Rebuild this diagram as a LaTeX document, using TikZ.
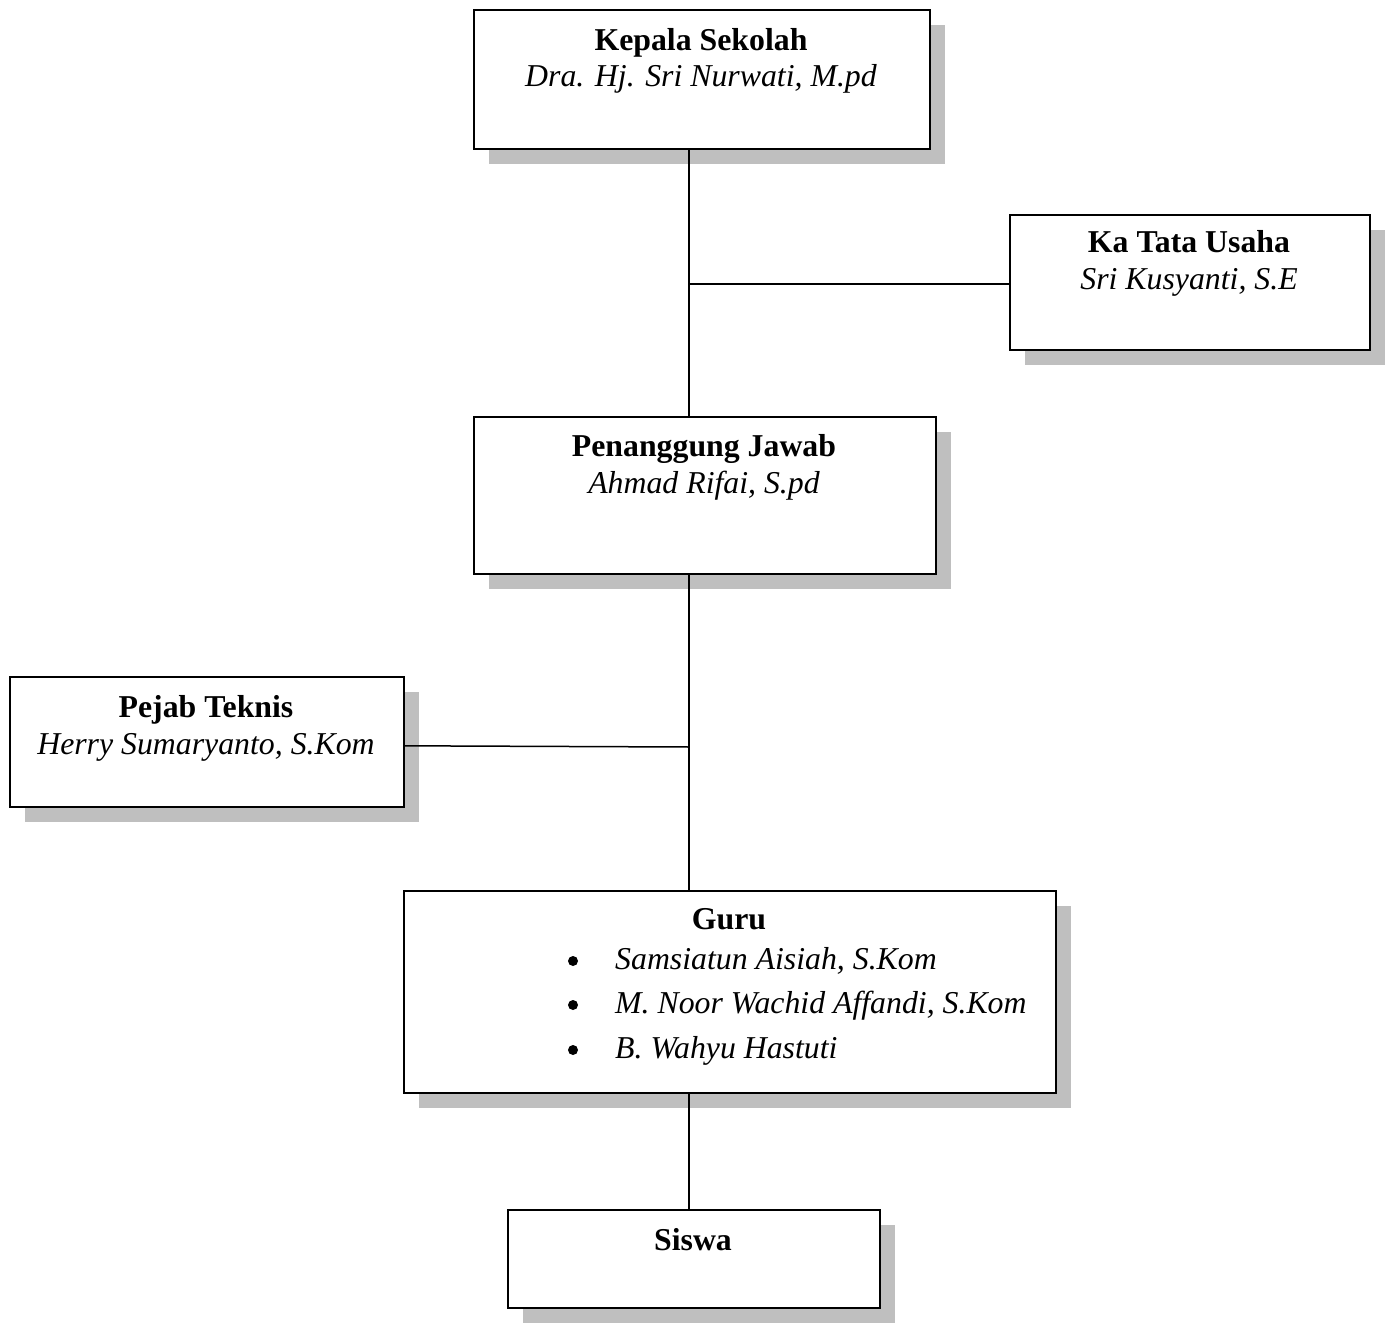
\documentclass[tikz,border=0pt]{standalone}
\usepackage{fontspec}
\setmainfont{Liberation Serif}
\usetikzlibrary{shadows,calc}
\begin{document}
\begin{tikzpicture}[x=1pt,y=-1pt,
  box/.style={draw=black, line width=1.6pt, fill=white, anchor=north west, inner sep=0pt,
    drop shadow={shadow xshift=15pt, shadow yshift=-15pt, fill=black!25, opacity=1}},
  conn/.style={draw=black, line width=1.5pt},
  ttl/.style={anchor=base, inner sep=0pt, font=\fontsize{31.8}{38}\selectfont\bfseries},
  nm/.style={anchor=base, inner sep=0pt, font=\fontsize{31.8}{38}\selectfont\itshape},
  bul/.style={circle, fill=black, inner sep=0pt, minimum size=10pt},
  itm/.style={anchor=base west, inner sep=0pt, font=\fontsize{31.8}{38}\selectfont\itshape}]
\useasboundingbox (0,0) rectangle (1389,1324);
% boxes
\node[box, minimum width=456pt, minimum height=139pt] (kepala) at (473,9) {};
\node[box, minimum width=360pt, minimum height=135pt] (tu) at (1009,214) {};
\node[box, minimum width=462pt, minimum height=157pt] (pj) at (473,416) {};
\node[box, minimum width=394pt, minimum height=130pt] (pejab) at (9,676) {};
\node[box, minimum width=652pt, minimum height=202pt] (guru) at (403,890) {};
\node[box, minimum width=372pt, minimum height=98pt] (siswa) at (507,1209) {};
% junctions
\coordinate (j1) at (689,284);
\coordinate (j2) at (689,747);
% connectors
\draw[conn] (kepala.south -| j1) -- (pj.north -| j1);
\draw[conn] (j1) -- (tu.west |- j1);
\draw[conn] (pj.south -| j2) -- (guru.north -| j2);
\draw[conn] ($(pejab.east)+(0,4)$) -- (j2);
\draw[conn] (guru.south -| j2) -- (siswa.north -| j2);
% texts
\node[ttl] (t1) at (701,51) {Kepala Sekolah};
\node[nm] (n1) at (701,87) {Dra. Hj. Sri Nurwati, M.pd};
\node[ttl] (t2) at (1189,253) {Ka Tata Usaha};
\node[nm] (n2) at (1189,290) {Sri Kusyanti, S.E};
\node[ttl] (t3) at (704,456) {Penanggung Jawab};
\node[nm] (n3) at (704,493) {Ahmad Rifai, S.pd};
\node[ttl] (t4) at (206,717) {Pejab Teknis};
\node[nm] (n4) at (206,754) {Herry Sumaryanto, S.Kom};
\node[ttl] (t5) at (729,929) {Guru};
\node[bul] (b1) at (573,961) {};
\node[itm] (i1) at (615,969) {Samsiatun Aisiah, S.Kom};
\node[bul] (b2) at (573,1005) {};
\node[itm] (i2) at (615,1013) {M. Noor Wachid Affandi, S.Kom};
\node[bul] (b3) at (573,1050) {};
\node[itm] (i3) at (615,1058) {B. Wahyu Hastuti};
\node[ttl] (t6) at (693,1250) {Siswa};
\end{tikzpicture}
\end{document}
